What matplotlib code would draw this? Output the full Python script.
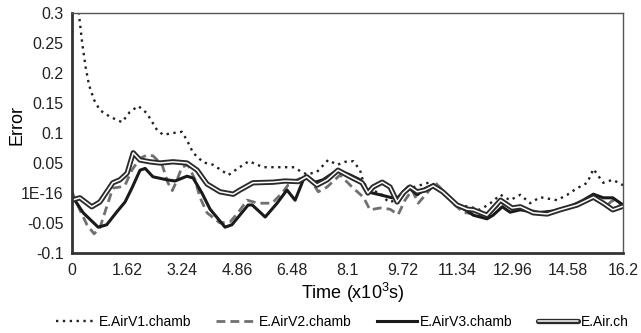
import matplotlib
matplotlib.use("Agg")
import matplotlib.pyplot as plt
import matplotlib.patheffects as pe

plt.rcParams['font.family'] = ['Liberation Sans', 'DejaVu Sans']
plt.rcParams['mathtext.fontset'] = 'custom'
plt.rcParams['mathtext.rm'] = 'Liberation Sans'

x_v1 = [0, 0.2, 0.3, 0.4, 0.5, 0.65, 0.82, 1.12, 1.47, 1.7, 1.95, 2.2, 2.5, 2.68, 2.98, 3.23, 3.38, 3.56,
        3.86, 4.15, 4.6, 4.85, 5.2, 5.62, 6.03, 6.5, 6.9, 7.2, 7.53, 7.8, 8.03, 8.27, 8.47, 8.57, 8.76,
        9.06, 9.3, 9.6, 9.94, 10.53, 10.9, 11.3, 11.7, 12.0, 12.3, 12.6, 12.88, 13.18, 13.47, 13.76,
        14.26, 14.56, 14.85, 15.15, 15.33, 15.62, 15.9, 16.2]
y_v1 = [0.34, 0.30, 0.25, 0.21, 0.18, 0.155, 0.138, 0.127, 0.118, 0.135, 0.145, 0.133, 0.105, 0.097, 0.100,
        0.102, 0.088, 0.067, 0.051, 0.047, 0.030, 0.040, 0.053, 0.043, 0.043, 0.043, 0.031, 0.035, 0.055,
        0.047, 0.052, 0.053, 0.038, 0.017, 0.005, 0.0, -0.015, -0.012, 0.008, 0.018, 0.005, -0.020, -0.023,
        -0.028, -0.017, -0.003, -0.012, -0.003, -0.017, -0.007, -0.012, -0.003, 0.008, 0.017, 0.040, 0.017,
        0.022, 0.013]

x_v2 = [0, 0.23, 0.44, 0.65, 0.82, 1.02, 1.2, 1.41, 1.56, 1.76, 2.0, 2.2, 2.38, 2.65, 2.82, 2.95, 3.09,
        3.23, 3.41, 3.62, 3.76, 3.97, 4.35, 4.65, 4.88, 5.15, 5.47, 5.88, 6.18, 6.35, 6.62, 6.85, 7.06,
        7.24, 7.5, 7.88, 8.27, 8.57, 8.76, 9.06, 9.35, 9.59, 9.79, 10.0, 10.18, 10.44, 10.68, 10.9, 11.2,
        11.5, 12.0, 12.3, 12.6, 12.97, 13.38, 13.85, 14.35, 14.85, 15.24, 15.53, 15.74, 15.9, 16.2]
y_v2 = [0.002, -0.028, -0.053, -0.068, -0.058, -0.023, 0.008, 0.010, 0.013, 0.038, 0.058, 0.063, 0.062,
        0.047, 0.017, 0.004, 0.022, 0.043, 0.047, 0.022, -0.007, -0.033, -0.050, -0.048, -0.033, -0.012,
        -0.017, -0.017, 0.0, 0.013, 0.022, 0.028, 0.018, 0.002, 0.010, 0.030, 0.008, -0.007, -0.028,
        -0.025, -0.027, -0.036, -0.012, 0.005, -0.017, 0.0, 0.017, 0.005, -0.017, -0.032, -0.037, -0.032,
        -0.017, -0.025, -0.028, -0.033, -0.028, -0.017, -0.007, -0.015, -0.020, -0.012, -0.020]

x_v3 = [0, 0.33, 0.77, 1.02, 1.31, 1.56, 1.76, 2.0, 2.15, 2.38, 2.79, 3.03, 3.38, 3.56, 3.82, 4.06, 4.5,
        4.7, 5.18, 5.3, 5.68, 6.03, 6.32, 6.56, 6.8, 6.9, 7.15, 7.38, 7.59, 7.82, 8.18, 8.47, 8.68, 9.06,
        9.41, 9.59, 9.88, 10.15, 10.4, 10.62, 10.9, 11.32, 11.62, 11.8, 12.2, 12.38, 12.65, 12.88, 13.18,
        13.68, 14.15, 14.65, 15.03, 15.33, 15.62, 15.9, 16.2]
y_v3 = [-0.005, -0.033, -0.057, -0.053, -0.032, -0.015, 0.008, 0.038, 0.041, 0.027, 0.022, 0.020, 0.028,
        0.025, 0.0, -0.027, -0.057, -0.053, -0.020, -0.020, -0.040, -0.017, 0.005, -0.012, 0.022, 0.028,
        0.018, 0.022, 0.030, 0.038, 0.030, 0.022, 0.002, -0.003, -0.008, -0.007, 0.010, -0.003, 0.008,
        0.013, 0.002, -0.020, -0.030, -0.037, -0.043, -0.037, -0.023, -0.032, -0.028, -0.033, -0.030,
        -0.023, -0.012, -0.002, -0.008, -0.008, -0.020]

x_ch = [0, 0.23, 0.58, 0.82, 1.2, 1.41, 1.62, 1.8, 2.0, 2.29, 2.59, 2.97, 3.38, 3.68, 3.97, 4.35, 4.74,
        4.94, 5.32, 5.91, 6.26, 6.65, 6.9, 7.2, 7.5, 7.82, 8.18, 8.53, 8.7, 8.85, 9.12, 9.35, 9.56, 9.74,
        9.94, 10.15, 10.38, 10.62, 10.9, 11.32, 11.62, 11.8, 12.2, 12.6, 12.94, 13.18, 13.56, 13.97, 14.35,
        14.85, 15.33, 15.62, 15.9, 16.2]
y_ch = [-0.012, -0.008, -0.023, -0.015, 0.017, 0.022, 0.033, 0.067, 0.055, 0.052, 0.050, 0.052, 0.050,
        0.038, 0.015, 0.002, -0.002, 0.005, 0.017, 0.018, 0.020, 0.019, 0.027, 0.013, 0.022, 0.038, 0.027,
        0.017, 0.0, 0.010, 0.018, 0.010, -0.015, 0.0, 0.010, 0.002, 0.005, 0.012, 0.002, -0.020, -0.027,
        -0.028, -0.037, -0.012, -0.025, -0.023, -0.033, -0.035, -0.028, -0.020, -0.007, -0.017, -0.028,
        -0.022]

x_ticks = [0, 1.62, 3.24, 4.86, 6.48, 8.1, 9.72, 11.34, 12.96, 14.58, 16.2]
x_tick_labels = ['0', '1.62', '3.24', '4.86', '6.48', '8.1', '9.72', '11.34', '12.96', '14.58', '16.2']
y_ticks = [-0.1, -0.05, 0, 0.05, 0.1, 0.15, 0.2, 0.25, 0.3]
y_tick_labels = ['-0.1', '-0.05', '1E-16', '0.05', '0.1', '0.15', '0.2', '0.25', '0.3']
labels = ['E.AirV1.chamb', 'E.AirV2.chamb', 'E.AirV3.chamb', 'E.Air.ch']

fig = plt.figure(figsize=(6.41, 3.33), dpi=100)
ax = fig.add_axes([72 / 641, 80 / 333, 551 / 641, 240 / 333])

ax.plot(x_v1, y_v1, color='#222222', lw=1.7, linestyle=(0, (1, 1.9)), label=labels[0])
ax.plot(x_v2, y_v2, color='#707070', lw=2.0, linestyle=(0, (3.2, 1.8)), label=labels[1])
ax.plot(x_v3, y_v3, color='#1a1a1a', lw=2.2, label=labels[2])
ax.plot(x_ch, y_ch, color='white', lw=1.1, label=labels[3], solid_capstyle='round',
        path_effects=[pe.Stroke(linewidth=3.8, foreground='#2a2a2a', capstyle='round'), pe.Normal()])

ax.set_xlim(0, 16.2)
ax.set_ylim(-0.1, 0.3)
ax.set_xticks(x_ticks)
ax.set_xticklabels(x_tick_labels)
ax.set_yticks(y_ticks)
ax.set_yticklabels(y_tick_labels)
ax.tick_params(length=0, labelsize=11.5, colors='#222222')
ax.tick_params(axis='x', pad=7)
ax.tick_params(axis='y', pad=6)
for s in ['left', 'bottom']:
    ax.spines[s].set_linewidth(2)
    ax.spines[s].set_color('#333333')
for s in ['top', 'right']:
    ax.spines[s].set_linewidth(1)
    ax.spines[s].set_color('#555555')

ax.set_ylabel('Error', fontsize=13, va='center')
ax.yaxis.set_label_coords((17 - 72) / 551, (253 - 125) / 240)
ax.set_xlabel('Time (x10$^{3}$s)', fontsize=13, va='center')
ax.xaxis.set_label_coords((353 - 72) / 551, (253 - 293) / 240)

ax.legend(loc='center', bbox_to_anchor=((342 - 72) / 551, (253 - 322) / 240), ncol=4, frameon=False,
          fontsize=10, handlelength=2.88, columnspacing=1.8, handletextpad=0.22,
          borderaxespad=0, borderpad=0)

fig.savefig('out.png', dpi=100)
